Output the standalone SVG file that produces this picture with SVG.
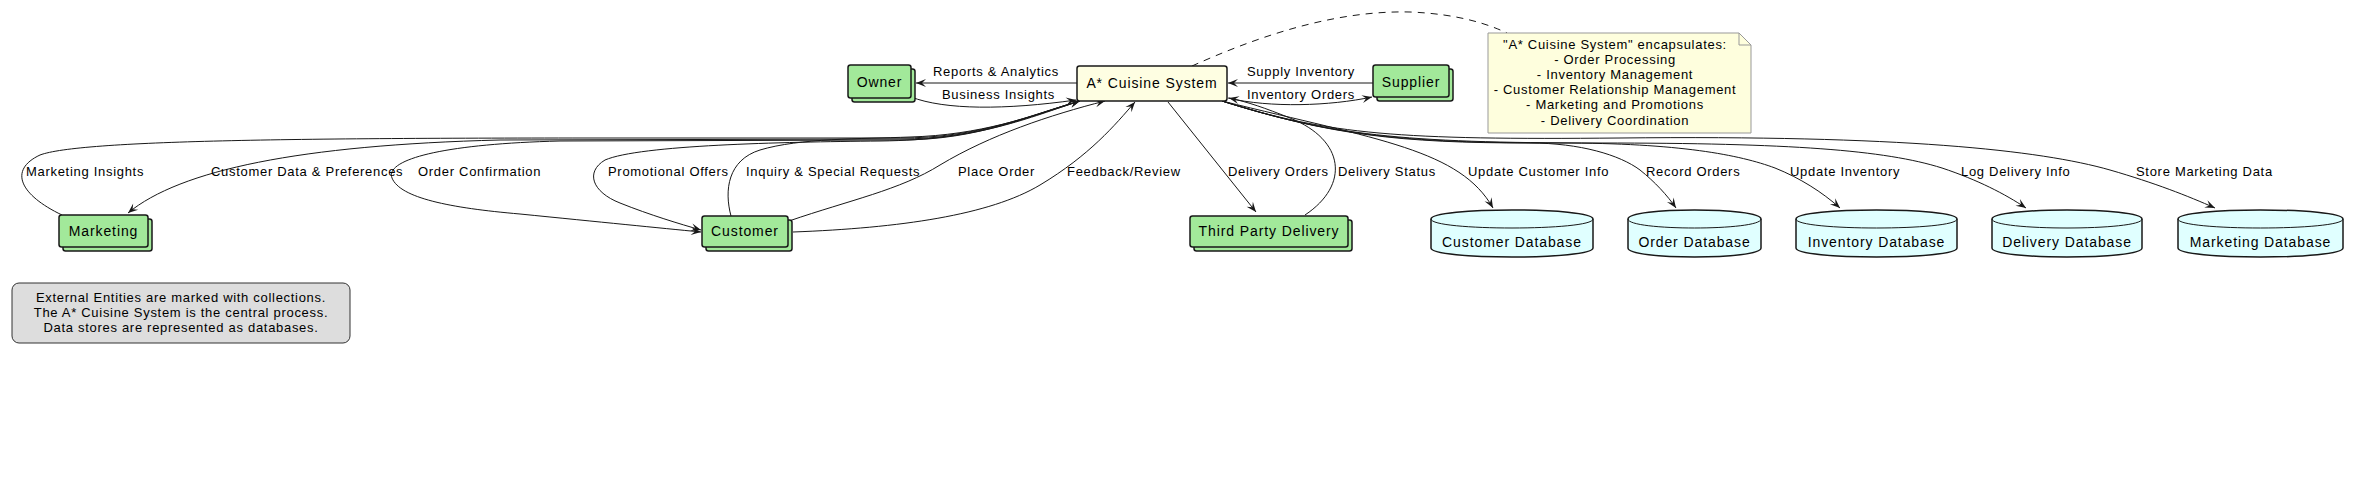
<svg xmlns="http://www.w3.org/2000/svg" width="2364" height="500" viewBox="0 0 2364 500">
<defs>
<style>
text{font-family:"Liberation Sans",Arial,sans-serif;fill:#000}
.lbl{font-size:13px;letter-spacing:0.7px}
.nm{font-size:14px;letter-spacing:0.9px;text-anchor:middle}
.nt{font-size:13px;letter-spacing:0.7px;text-anchor:middle}
.ent{fill:#a2e99a;stroke:#181818;stroke-width:1.5}
.db{fill:#e0ffff;stroke:#181818;stroke-width:1.5}
.e{fill:none;stroke:#181818;stroke-width:1}
.a{marker-end:url(#arr)}
</style>
<marker id="arr" viewBox="0 0 12 10" refX="11" refY="5" markerWidth="12" markerHeight="10" markerUnits="userSpaceOnUse" orient="auto">
<path d="M1,1 L11,5 L1,9 L5,5 Z" fill="#181818"/>
</marker>
</defs>
<rect width="2364" height="500" fill="#fff"/>

<g id="connectors">
<path class="e a" d="M1077,83 L916,83"/>
<path class="e a" d="M911,97 C945,110 1005,110 1076,100"/>
<path class="e a" d="M1373,83 L1228,83"/>
<path class="e a" d="M1228,98 C1270,108 1330,106 1372,97"/>
<path class="e a" d="M1168,102 L1256,212"/>
<path class="e a" d="M1305,215 C1350,185 1345,140 1290,118 C1265,108 1248,102 1229,98"/>
<path class="e a" d="M62,215 C20,195 8,170 40,155 C80,140 300,138 600,138 L900,138 C980,138 1030,115 1080,101"/>
<path class="e a" d="M1080,101 C1030,115 980,139 900,139 L500,140 C300,145 180,170 128,213"/>
<path class="e a" d="M1080,101 C1030,115 980,140 900,140 L560,141 C440,144 385,160 392,178 C400,198 450,208 520,214 C600,222 660,228 701,232"/>
<path class="e a" d="M1080,101 C1030,117 980,140 880,141 C780,142 640,145 605,160 C585,172 592,192 620,203 C650,215 680,224 701,230"/>
<path class="e a" d="M731,216 C724,190 728,160 760,150 C800,138 860,139 910,137 C980,135 1030,117 1080,101"/>
<path class="e a" d="M789,221 C850,200 900,190 940,165 C990,135 1050,115 1105,101"/>
<path class="e a" d="M793,232 C900,228 990,215 1040,185 C1090,155 1115,125 1135,102"/>
<path class="e a" d="M1222,101 C1380,140 1460,150 1493,208"/>
<path class="e a" d="M1222,101 C1330,135 1400,143 1530,143 C1580,143 1620,155 1640,170 C1655,182 1667,195 1676,208"/>
<path class="e a" d="M1222,101 C1330,135 1400,143 1560,143 C1680,143 1740,155 1775,168 C1800,178 1822,192 1840,208"/>
<path class="e a" d="M1222,101 C1330,135 1400,143 1600,143 C1790,143 1885,150 1942,168 C1978,180 2005,194 2026,208"/>
<path class="e a" d="M1222,101 C1330,135 1400,140 1620,138 C1900,135 2040,150 2110,170 C2155,183 2188,196 2215,208"/>
<path class="e" stroke-dasharray="7,6" d="M1192,66 C1250,40 1330,10 1410,12 C1460,14 1490,25 1507,33"/>
</g>

<g id="labels">
<text class="lbl" x="933" y="76">Reports &amp; Analytics</text>
<text class="lbl" x="942" y="99">Business Insights</text>
<text class="lbl" x="1247" y="76">Supply Inventory</text>
<text class="lbl" x="1247" y="99">Inventory Orders</text>
<text class="lbl" x="26" y="176">Marketing Insights</text>
<text class="lbl" x="211" y="176">Customer Data &amp; Preferences</text>
<text class="lbl" x="418" y="176">Order Confirmation</text>
<text class="lbl" x="608" y="176">Promotional Offers</text>
<text class="lbl" x="746" y="176">Inquiry &amp; Special Requests</text>
<text class="lbl" x="958" y="176">Place Order</text>
<text class="lbl" x="1067" y="176">Feedback/Review</text>
<text class="lbl" x="1228" y="176">Delivery Orders</text>
<text class="lbl" x="1338" y="176">Delivery Status</text>
<text class="lbl" x="1468" y="176">Update Customer Info</text>
<text class="lbl" x="1646" y="176">Record Orders</text>
<text class="lbl" x="1790" y="176">Update Inventory</text>
<text class="lbl" x="1961" y="176">Log Delivery Info</text>
<text class="lbl" x="2136" y="176">Store Marketing Data</text>
</g>

<g id="system">
<rect x="1077" y="66" width="150" height="35" rx="2.5" fill="#fefee2" stroke="#181818" stroke-width="1.5"/>
<text class="nm" x="1152" y="88">A* Cuisine System</text>
</g>

<g id="owner">
<rect class="ent" x="852" y="69" width="63" height="33" rx="2.5"/>
<rect class="ent" x="848" y="65" width="63" height="33" rx="2.5"/>
<text class="nm" x="879.5" y="87">Owner</text>
</g>

<g id="supplier">
<rect class="ent" x="1377" y="69" width="76" height="32" rx="2.5"/>
<rect class="ent" x="1373" y="65" width="76" height="32" rx="2.5"/>
<text class="nm" x="1411" y="87">Supplier</text>
</g>

<g id="marketing">
<rect class="ent" x="63" y="219" width="89" height="32" rx="2.5"/>
<rect class="ent" x="59" y="215" width="89" height="32" rx="2.5"/>
<text class="nm" x="103.5" y="236">Marketing</text>
</g>

<g id="customer">
<rect class="ent" x="706" y="220" width="86" height="31" rx="2.5"/>
<rect class="ent" x="702" y="216" width="86" height="31" rx="2.5"/>
<text class="nm" x="745" y="236">Customer</text>
</g>

<g id="thirdparty">
<rect class="ent" x="1194" y="220" width="158" height="31" rx="2.5"/>
<rect class="ent" x="1190" y="216" width="158" height="31" rx="2.5"/>
<text class="nm" x="1269" y="236">Third Party Delivery</text>
</g>

<g id="customerdb">
<path class="db" d="M1431,219 C1431,207 1593,207 1593,219 L1593,248 C1593,260 1431,260 1431,248 Z"/>
<path class="e" stroke-width="1.5" d="M1431,219 C1431,231 1593,231 1593,219"/>
<text class="nm" x="1512" y="247">Customer Database</text>
</g>

<g id="orderdb">
<path class="db" d="M1628,219 C1628,207 1761,207 1761,219 L1761,248 C1761,260 1628,260 1628,248 Z"/>
<path class="e" stroke-width="1.5" d="M1628,219 C1628,231 1761,231 1761,219"/>
<text class="nm" x="1694.5" y="247">Order Database</text>
</g>

<g id="inventorydb">
<path class="db" d="M1796,219 C1796,207 1957,207 1957,219 L1957,248 C1957,260 1796,260 1796,248 Z"/>
<path class="e" stroke-width="1.5" d="M1796,219 C1796,231 1957,231 1957,219"/>
<text class="nm" x="1876.5" y="247">Inventory Database</text>
</g>

<g id="deliverydb">
<path class="db" d="M1992,219 C1992,207 2142,207 2142,219 L2142,248 C2142,260 1992,260 1992,248 Z"/>
<path class="e" stroke-width="1.5" d="M1992,219 C1992,231 2142,231 2142,219"/>
<text class="nm" x="2067" y="247">Delivery Database</text>
</g>

<g id="marketingdb">
<path class="db" d="M2178,219 C2178,207 2343,207 2343,219 L2343,248 C2343,260 2178,260 2178,248 Z"/>
<path class="e" stroke-width="1.5" d="M2178,219 C2178,231 2343,231 2343,219"/>
<text class="nm" x="2260.5" y="247">Marketing Database</text>
</g>

<g id="note">
<path d="M1488,33 L1739,33 L1751,45 L1751,133 L1488,133 Z" fill="#fefedd" stroke="#999" stroke-width="1"/>
<path d="M1739,33 L1739,45 L1751,45" fill="none" stroke="#999" stroke-width="1"/>
<text class="nt" x="1615" y="49">"A* Cuisine System" encapsulates:</text>
<text class="nt" x="1615" y="64">- Order Processing</text>
<text class="nt" x="1615" y="79">- Inventory Management</text>
<text class="nt" x="1615" y="94">- Customer Relationship Management</text>
<text class="nt" x="1615" y="109">- Marketing and Promotions</text>
<text class="nt" x="1615" y="125">- Delivery Coordination</text>
</g>

<g id="legend">
<rect x="12" y="283" width="338" height="60" rx="7" fill="#dddddd" stroke="#333" stroke-width="1"/>
<text class="nt" x="181" y="302">External Entities are marked with collections.</text>
<text class="nt" x="181" y="317">The A* Cuisine System is the central process.</text>
<text class="nt" x="181" y="332">Data stores are represented as databases.</text>
</g>
</svg>
